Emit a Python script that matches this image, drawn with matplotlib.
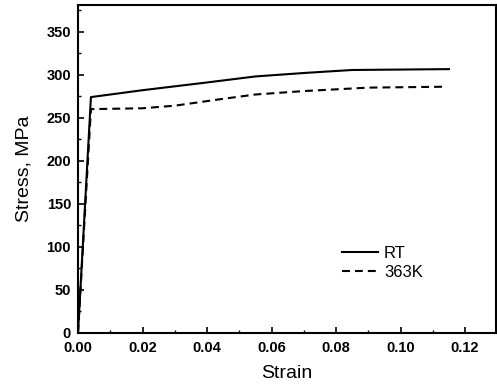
import numpy as np
import matplotlib
matplotlib.use('Agg')
from matplotlib import pyplot as plt
from matplotlib.ticker import MultipleLocator, FormatStrFormatter

plt.rcParams['font.family'] = ['Liberation Sans', 'DejaVu Sans']

# --- data ---
strain_rt = [0.0, 0.004, 0.02, 0.04, 0.055, 0.07, 0.085, 0.115]
stress_rt = [0.0, 274, 282, 291, 298, 302, 305.5, 306.5]

strain_363 = [0.0, 0.004, 0.02, 0.03, 0.045, 0.055, 0.07, 0.09, 0.113]
stress_363 = [0.0, 260, 261, 264, 272, 277, 281, 285, 286]

labels = ['RT', '363K']

fig = plt.figure(figsize=(4.97, 3.87), dpi=100)
ax = fig.add_axes([0.157, 0.14, 0.841, 0.847])

ax.plot(strain_rt, stress_rt, '-', color='black', lw=1.5, label=labels[0])
ax.plot(strain_363, stress_363, '--', color='black', lw=1.5, dashes=(3.8, 2.4), label=labels[1])

ax.set_xlim(0, 0.1296)
ax.set_ylim(0, 381)
ax.xaxis.set_major_locator(MultipleLocator(0.02))
ax.xaxis.set_minor_locator(MultipleLocator(0.01))
ax.yaxis.set_major_locator(MultipleLocator(50))
ax.yaxis.set_minor_locator(MultipleLocator(25))
ax.xaxis.set_major_formatter(FormatStrFormatter('%.2f'))

ax.tick_params(which='major', direction='in', length=4, width=1.2, labelsize=10.5)
ax.tick_params(axis='x', which='major', pad=6)
ax.tick_params(axis='y', which='major', pad=5)
ax.tick_params(which='minor', direction='in', length=2.5, width=1.0)
for lab in ax.get_xticklabels() + ax.get_yticklabels():
    lab.set_fontweight('bold')
for s in ax.spines.values():
    s.set_linewidth(1.5)

ax.set_xlabel("Strain", fontsize=14, labelpad=7)
ax.set_ylabel("Stress, MPa", fontsize=14, labelpad=10)

ax.legend(loc='center left', bbox_to_anchor=(0.632, 0.213), frameon=False,
          fontsize=12, handlelength=2.15, handletextpad=0.35, labelspacing=0.25,
          borderpad=0, borderaxespad=0)

fig.savefig('out.png', dpi=100)
